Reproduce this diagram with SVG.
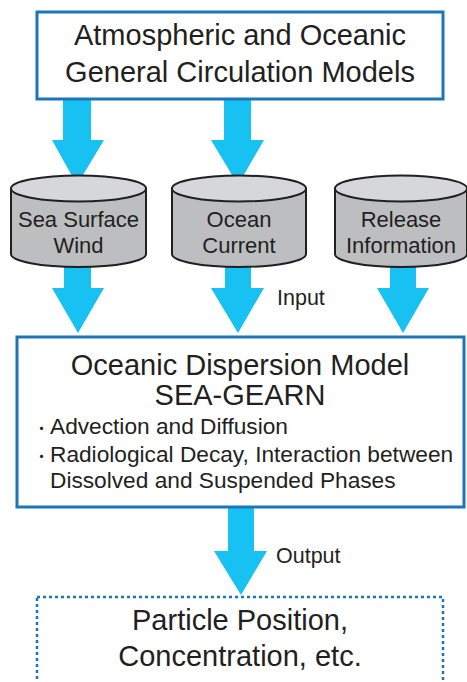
<svg xmlns="http://www.w3.org/2000/svg" width="467" height="682" viewBox="0 0 467 682">
<style>
  text { font-family: "Liberation Sans", Arial, "Noto Sans CJK JP", sans-serif; fill: #231f20; }
  .big { font-size: 29px; text-anchor: middle; }
  .cyl { font-size: 22px; text-anchor: middle; }
  .body { font-size: 22.7px; }
  .bul { font-size: 15px; }
  .lbl { font-size: 21.5px; }
  .box { fill: #ffffff; stroke: #1a75bb; stroke-width: 3; }
  .dot { fill: #ffffff; stroke: #1a75bb; stroke-width: 2.5; stroke-dasharray: 3 3; }
  .arrow { fill: #17c1f1; }
  .side { fill: #bdbec0; stroke: #231f20; stroke-width: 2; }
  .top { fill: #d6d7d9; stroke: #231f20; stroke-width: 2; }
</style>
<rect width="467" height="682" fill="#ffffff"/>
<g id="connectors">
  <polygon class="arrow" points="63,99 91,99 91,140 104,140 77,185 52,140 63,140"/>
  <polygon class="arrow" points="224,99 251,99 251,140 264,140 238,185 211,140 224,140"/>
  <polygon class="arrow" points="64,266 91,266 91,288 104,288 78,333 52,288 64,288"/>
  <polygon class="arrow" points="225,266 251,266 251,288 264,288 238,333 211,288 225,288"/>
  <polygon class="arrow" points="390,266 416,266 416,288 429,288 403,333 377,288 390,288"/>
  <polygon class="arrow" points="228,507 254,507 254,551 267,551 241,595 214,551 228,551"/>
  <text class="lbl" x="277" y="305">Input</text>
  <text class="lbl" x="276" y="563">Output</text>
</g>
<g id="gcm">
  <rect class="box" x="37" y="12" width="406" height="87"/>
  <text class="big" x="240" y="45">Atmospheric and Oceanic</text>
  <text class="big" x="240" y="82">General Circulation Models</text>
</g>
<g id="wind">
  <path class="side" d="M11,188.5 V254 A67.5,13 0 0 0 146,254 V188.5 Z"/>
  <ellipse class="top" cx="78.5" cy="188.5" rx="67.5" ry="13"/>
  <text class="cyl" x="78.5" y="227">Sea Surface</text>
  <text class="cyl" x="78.5" y="253">Wind</text>
</g>
<g id="current">
  <path class="side" d="M172,188.5 V254 A67,13 0 0 0 306,254 V188.5 Z"/>
  <ellipse class="top" cx="239" cy="188.5" rx="67" ry="13"/>
  <text class="cyl" x="239" y="227">Ocean</text>
  <text class="cyl" x="239" y="253">Current</text>
</g>
<g id="release">
  <path class="side" d="M335,188.5 V254 A66,13 0 0 0 467,254 V188.5 Z"/>
  <ellipse class="top" cx="401" cy="188.5" rx="66" ry="13"/>
  <text class="cyl" x="401" y="227">Release</text>
  <text class="cyl" x="401" y="253">Information</text>
</g>
<g id="seagearn">
  <rect class="box" x="17" y="337" width="447" height="170"/>
  <text class="big" x="240" y="375">Oceanic Dispersion Model</text>
  <text class="big" x="240" y="405">SEA-GEARN</text>
  <text class="body" x="34" y="434"><tspan class="bul">・</tspan><tspan x="50">Advection and Diffusion</tspan></text>
  <text class="body" x="34" y="462"><tspan class="bul">・</tspan><tspan x="50">Radiological Decay, Interaction between</tspan></text>
  <text class="body" x="50" y="488">Dissolved and Suspended Phases</text>
</g>
<g id="output">
  <rect class="dot" x="37" y="597" width="406" height="100"/>
  <text class="big" x="240" y="630">Particle Position,</text>
  <text class="big" x="240" y="666">Concentration, etc.</text>
</g>
</svg>
